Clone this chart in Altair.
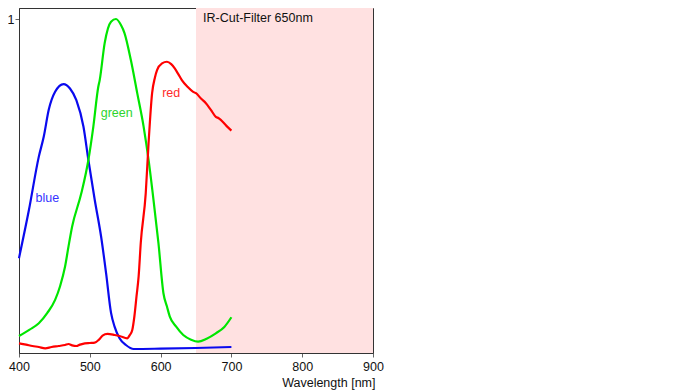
import altair as alt
import pandas as pd

# ---- data ----
blue_nm = [400, 414, 428, 435, 442, 451, 463, 472, 481, 491, 498, 507, 516, 523, 530, 535, 542, 551, 562, 600, 650, 700]
blue_val = [0.284, 0.428, 0.588, 0.648, 0.728, 0.782, 0.805, 0.792, 0.757, 0.678, 0.578, 0.458, 0.348, 0.239, 0.120, 0.079, 0.044, 0.024, 0.012, 0.013, 0.015, 0.018]

green_nm = [400, 415, 428, 440, 451, 458, 465, 470, 475, 488, 498, 505, 512, 514, 521, 530, 537, 544, 549, 558, 567, 576, 583, 590, 597, 604, 609, 613, 622, 632, 643, 653, 665, 678, 690, 700]
green_val = [0.051, 0.070, 0.089, 0.120, 0.159, 0.200, 0.258, 0.320, 0.378, 0.478, 0.578, 0.678, 0.797, 0.817, 0.928, 0.992, 1.000, 0.982, 0.958, 0.877, 0.778, 0.678, 0.578, 0.458, 0.328, 0.179, 0.139, 0.109, 0.079, 0.054, 0.040, 0.034, 0.043, 0.059, 0.078, 0.107]

red_nm = [400, 410, 419, 428, 437, 446, 456, 465, 470, 475, 481, 486, 493, 500, 507, 513, 518, 525, 535, 542, 553, 556, 560, 563, 566, 569, 572, 579, 583, 588, 592, 595, 602, 609, 615, 620, 625, 630, 638, 646, 650, 657, 664, 671, 678, 682, 685, 693, 700]
red_val = [0.029, 0.025, 0.021, 0.018, 0.014, 0.018, 0.021, 0.024, 0.027, 0.023, 0.021, 0.025, 0.029, 0.030, 0.031, 0.040, 0.052, 0.057, 0.054, 0.051, 0.044, 0.052, 0.069, 0.110, 0.170, 0.230, 0.330, 0.478, 0.628, 0.778, 0.825, 0.847, 0.867, 0.872, 0.865, 0.852, 0.835, 0.817, 0.797, 0.782, 0.778, 0.762, 0.748, 0.728, 0.707, 0.703, 0.698, 0.680, 0.666]

series_names = ["blue", "green", "red"]
series_colors = ["#0a0aee", "#00e600", "#ff0000"]
label_colors = ["#3434ff", "#2ed42e", "#ff2a2a"]
label_nm = [440, 538, 615]
label_val = [0.451, 0.707, 0.766]

filter_from, filter_to = 650, 900
filter_text = "IR-Cut-Filter 650nm"
filter_text_nm = 660
filter_text_val = 0.992

x_ticks = [400, 500, 600, 700, 800, 900]
y_ticks = [1]

# ---- tables ----
rows = []
for name, xs, ys in zip(series_names, [blue_nm, green_nm, red_nm], [blue_val, green_val, red_val]):
    for a, b in zip(xs, ys):
        rows.append({"series": name, "nm": a, "value": b})
df = pd.DataFrame(rows)

df_lab = pd.DataFrame({"nm": label_nm, "value": label_val, "text": series_names, "c": label_colors})
df_ir = pd.DataFrame({"x1": [filter_from], "x2": [filter_to]})
df_irt = pd.DataFrame({"nm": [filter_text_nm], "value": [filter_text_val], "text": [filter_text]})

W, H = 354, 345

x_scale = alt.Scale(domain=[400, 900], nice=False, zero=False)
y_scale = alt.Scale(domain=[0, 1.033], nice=False, zero=True)

x_axis = alt.Axis(
    values=x_ticks, title="Wavelength [nm]", grid=False, labelFlush=False,
    tickSize=4, labelPadding=3, labelFontSize=12.5, labelColor="#111",
    titleFontSize=12.5, titleFontWeight="normal", titleColor="#111",
    titleX=356, titleY=33, titleAlign="right", titleBaseline="alphabetic",
    domainColor="#333", tickColor="#666",
)
y_axis = alt.Axis(
    values=y_ticks, format="d", title=None, grid=False,
    tickSize=4, labelPadding=1, labelFontSize=12.5, labelColor="#111",
    domainColor="#333", tickColor="#666",
)

rect = alt.Chart(df_ir).mark_rect(color="#ffe1e1").encode(
    x=alt.X("x1:Q", scale=x_scale, axis=x_axis),
    x2="x2:Q",
    y=alt.value(0),
    y2=alt.value(H),
)

lines = alt.Chart(df).mark_line(strokeWidth=2.2, interpolate="monotone").encode(
    x=alt.X("nm:Q", scale=x_scale, axis=x_axis),
    y=alt.Y("value:Q", scale=y_scale, axis=y_axis),
    color=alt.Color("series:N", scale=alt.Scale(domain=series_names, range=series_colors), legend=None),
    detail="series:N",
)

labels = alt.Chart(df_lab).mark_text(fontSize=12.5, align="center", baseline="alphabetic").encode(
    x=alt.X("nm:Q", scale=x_scale, axis=x_axis),
    y=alt.Y("value:Q", scale=y_scale, axis=y_axis),
    text="text:N",
    color=alt.Color("c:N", scale=None),
)

ir_text = alt.Chart(df_irt).mark_text(fontSize=12.5, align="left", baseline="alphabetic", color="#111").encode(
    x=alt.X("nm:Q", scale=x_scale, axis=x_axis),
    y=alt.Y("value:Q", scale=y_scale, axis=y_axis),
    text="text:N",
)

chart = alt.layer(rect, lines, labels, ir_text).properties(
    width=W, height=H,
    autosize=alt.AutoSizeParams(type="none"),
    padding={"left": 11, "top": 0, "right": 30, "bottom": 40},
).configure(font="Liberation Sans").configure_view(stroke="#333", strokeWidth=1)

chart.save("out.html", embed_options={"renderer": "svg", "actions": False})
